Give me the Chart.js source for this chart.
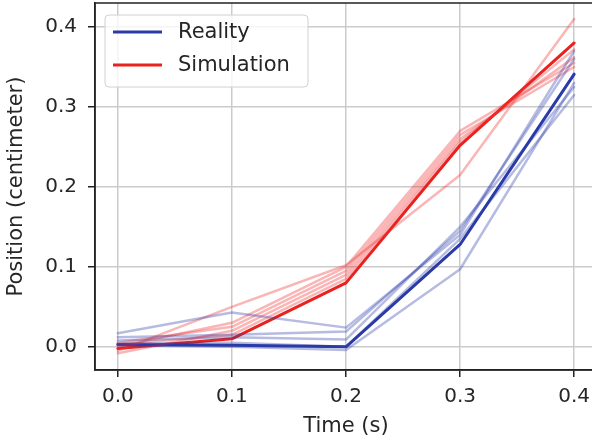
<!DOCTYPE html>
<html>
<head>
    <title>Position over time</title>
    <script src="https://cdn.jsdelivr.net/npm/chart.js"></script>
    <style>
        body {
            margin: 0;
            background: #fff;
            overflow: hidden;
        }
        #wrap {
            width: 597px;
            height: 443px;
        }
    </style>
</head>
<body>
    <div id="wrap"><canvas id="chart" width="597" height="443"></canvas></div>

    <script>
        // values
        const times = [0.0, 0.1, 0.2, 0.3, 0.4];
        const xTicks = [0.0, 0.1, 0.2, 0.3, 0.4];
        const yTicks = [0.0, 0.1, 0.2, 0.3, 0.4];

        const realityMean = [0.003, 0.002, 0.0, 0.128, 0.341];
        const realityRuns = [
            [0.017, 0.043, 0.024, 0.140, 0.370],
            [0.012, 0.015, 0.019, 0.145, 0.360],
            [0.008, 0.012, 0.009, 0.150, 0.325],
            [0.004, 0.005, 0.000, 0.135, 0.315],
            [0.002, 0.000, -0.004, 0.097, 0.330]
        ];

        const simMean = [-0.002, 0.010, 0.080, 0.252, 0.380];
        const simRuns = [
            [-0.005, 0.050, 0.102, 0.215, 0.410],
            [0.000, 0.030, 0.100, 0.270, 0.355],
            [0.005, 0.025, 0.095, 0.265, 0.350],
            [-0.008, 0.020, 0.090, 0.260, 0.362],
            [0.003, 0.015, 0.085, 0.256, 0.372]
        ];

        const BLUE = '#2a3ba8';
        const RED = '#e8221e';
        const FONT = 'DejaVu Sans';

        function pts(arr) {
            return arr.map((v, i) => ({ x: times[i], y: v }));
        }

        const datasets = [];
        realityRuns.forEach(r => datasets.push({
            data: pts(r), borderColor: 'rgba(42,59,168,0.35)', borderWidth: 2.5, legend: false
        }));
        simRuns.forEach(r => datasets.push({
            data: pts(r), borderColor: 'rgba(240,45,45,0.35)', borderWidth: 2.5, legend: false
        }));
        datasets.push({ label: 'Reality', data: pts(realityMean), borderColor: BLUE, borderWidth: 3, legend: true });
        datasets.push({ label: 'Simulation', data: pts(simMean), borderColor: RED, borderWidth: 3, legend: true });

        // top/right spines and a matplotlib style legend box
        const framePlugin = {
            id: 'frame',
            afterDraw(chart) {
                const ctx = chart.ctx;
                const a = chart.chartArea;
                ctx.save();
                ctx.strokeStyle = '#222';
                ctx.lineWidth = 1.5;
                ctx.strokeRect(a.left, a.top, a.right - a.left, a.bottom - a.top);

                ctx.beginPath();
                ctx.roundRect(105, 15, 203, 72, 4);
                ctx.fillStyle = 'rgba(255,255,255,0.8)';
                ctx.fill();
                ctx.strokeStyle = '#d0d0d0';
                ctx.lineWidth = 1;
                ctx.stroke();

                const items = chart.data.datasets.filter(d => d.legend);
                ctx.font = '21px "' + FONT + '"';
                ctx.textBaseline = 'middle';
                items.forEach((d, i) => {
                    const y = 32 + i * 33;
                    ctx.beginPath();
                    ctx.moveTo(113, y);
                    ctx.lineTo(162, y);
                    ctx.strokeStyle = d.borderColor;
                    ctx.lineWidth = 3;
                    ctx.stroke();
                    ctx.fillStyle = '#262626';
                    ctx.fillText(d.label, 178, y + 1);
                });
                ctx.restore();
            }
        };

        const tickFont = { family: FONT, size: 20 };
        const titleFont = { family: FONT, size: 21 };

        new Chart(document.getElementById('chart'), {
            type: 'line',
            data: { datasets: datasets },
            options: {
                responsive: false,
                animation: false,
                layout: { padding: { top: 3, left: 0, right: 0, bottom: 0 } },
                elements: {
                    point: { radius: 0 },
                    line: { tension: 0, borderCapStyle: 'round', borderJoinStyle: 'round' }
                },
                plugins: {
                    legend: { display: false },
                    tooltip: { enabled: false }
                },
                scales: {
                    x: {
                        type: 'linear',
                        min: -0.02,
                        max: 0.42,
                        afterBuildTicks: s => { s.ticks = xTicks.map(v => ({ value: v })); },
                        afterFit: s => {
                            s.height = 73;
                            s.paddingLeft = 0;
                            s.paddingRight = 0;
                        },
                        ticks: {
                            font: tickFont,
                            color: '#262626',
                            padding: 8,
                            maxRotation: 0,
                            callback: v => v.toFixed(1)
                        },
                        grid: { color: '#cbcbcb', lineWidth: 1.5, tickColor: '#222', tickLength: 7 },
                        border: { color: '#222', width: 1.5 },
                        title: { display: true, text: 'Time (s)', font: titleFont, color: '#262626', padding: { top: 2 } }
                    },
                    y: {
                        min: -0.029,
                        max: 0.43,
                        afterBuildTicks: s => { s.ticks = yTicks.map(v => ({ value: v })); },
                        afterFit: s => {
                            s.width = 95;
                            s.paddingTop = 0;
                            s.paddingBottom = 0;
                        },
                        ticks: {
                            font: tickFont,
                            color: '#262626',
                            padding: 11,
                            callback: v => v.toFixed(1)
                        },
                        grid: { color: '#cbcbcb', lineWidth: 1.5, tickColor: '#222', tickLength: 7 },
                        border: { color: '#222', width: 1.5 },
                        title: { display: true, text: 'Position (centimeter)', font: titleFont, color: '#262626', padding: { bottom: 4 } }
                    }
                }
            },
            plugins: [framePlugin]
        });
    </script>
</body>
</html>
